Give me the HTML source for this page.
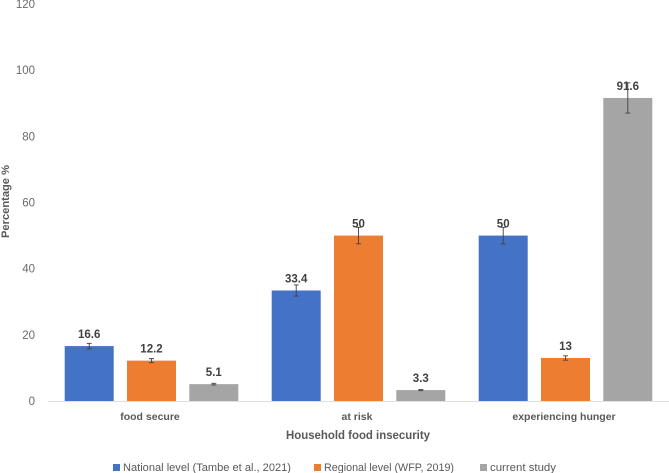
<!DOCTYPE html>
<html lang="en">
<head>
<meta charset="utf-8">
<title>Household food insecurity chart</title>
<style>
html,body{margin:0;padding:0;background:#fff;}
svg{display:block;font-family:"Liberation Sans",sans-serif;}
</style>
</head>
<body>
<svg id="chart" width="669" height="473" viewBox="0 0 669 473" xmlns="http://www.w3.org/2000/svg"></svg>
<script>
const categories = ['food secure', 'at risk', 'experiencing hunger'];
const nationalValues = [16.6, 33.4, 50];
const regionalValues = [12.2, 50, 13];
const currentValues = [5.1, 3.3, 91.6];
const nationalErrors = [0.83, 1.67, 2.5];
const regionalErrors = [0.61, 2.5, 0.65];
const currentErrors = [0.25, 0.17, 4.58];
const yTicks = [0, 20, 40, 60, 80, 100, 120];
const seriesNames = ['National level (Tambe et al., 2021)', 'Regional level (WFP, 2019)', 'current study'];
const seriesColors = ['#4472c4', '#ed7d31', '#a5a5a5'];
const seriesSlugs = ['national', 'regional', 'current'];

const svg = document.getElementById('chart');
const NS = 'http://www.w3.org/2000/svg';
const plotLeft = 48, plotRight = 669, baseY = 401, topY = 4, yMax = 120;
const barW = 49, barStep = 62.3;
const yScale = v => baseY - (v / yMax) * (baseY - topY);
const groupW = (plotRight - plotLeft) / categories.length;
const xCenter = i => plotLeft + groupW * (i + 0.5);

function make(tag, attrs, text) {
  const el = document.createElementNS(NS, tag);
  for (const k in attrs) el.setAttribute(k, attrs[k]);
  if (text !== undefined) el.textContent = text;
  svg.appendChild(el);
  return el;
}

// y axis tick labels
yTicks.forEach(t => {
  const el = make('text', {x: 35, y: yScale(t) + 4, 'text-anchor': 'end', 'font-size': 11.5, fill: '#6a6a6a'}, String(t));
  
  
});

// x axis line
const axisLine = make('line', {x1: plotLeft, x2: plotRight, y1: baseY + 0.5, y2: baseY + 0.5, stroke: '#e0e0e0', 'stroke-width': 1});



const allValues = [nationalValues, regionalValues, currentValues];
const allErrors = [nationalErrors, regionalErrors, currentErrors];

// bars
allValues.forEach((vals, s) => {
  vals.forEach((v, i) => {
    const cx = xCenter(i) + (s - 1) * barStep;
    const bar = make('rect', {x: cx - barW / 2, y: yScale(v), width: barW, height: baseY - yScale(v), fill: seriesColors[s]});
    
    
  });
});

// data labels
allValues.forEach((vals, s) => {
  vals.forEach((v, i) => {
    const cx = xCenter(i) + (s - 1) * barStep;
    const label = make('text', {x: cx, y: yScale(v) - 8, 'text-anchor': 'middle', 'font-size': 11.5, 'font-weight': 'bold', fill: '#404040'}, String(v));
    
    
  });
});

// error bars
allValues.forEach((vals, s) => {
  vals.forEach((v, i) => {
    const cx = xCenter(i) + (s - 1) * barStep;
    const e = allErrors[s][i];
    const y1 = yScale(v + e), y2 = yScale(v - e);
    const d = 'M' + cx + ' ' + y1 + 'V' + y2 + 'M' + (cx - 2.5) + ' ' + y1 + 'H' + (cx + 2.5) + 'M' + (cx - 2.5) + ' ' + y2 + 'H' + (cx + 2.5);
    const err = make('path', {d: d, stroke: '#404040', 'stroke-width': 0.9, fill: 'none'});
    
    
  });
});

// category labels
categories.forEach((c, i) => {
  const el = make('text', {x: xCenter(i) - 1.5, y: 420, 'text-anchor': 'middle', 'font-size': 10.5, 'font-weight': 'bold', fill: '#595959'}, c);
  
  
});

// axis titles
const xTitle = make('text', {x: 358, y: 439, 'text-anchor': 'middle', 'font-size': 12, 'font-weight': 'bold', fill: '#595959', textLength: 144, lengthAdjust: 'spacingAndGlyphs'}, 'Household food insecurity');



const yTitle = make('text', {transform: 'translate(9 201.5) rotate(-90)', 'text-anchor': 'middle', 'font-size': 11, 'font-weight': 'bold', fill: '#595959', textLength: 73, lengthAdjust: 'spacingAndGlyphs'}, 'Percentage %');



// legend
const legendSwatchX = [113, 314, 480];
const legendTextW = [168, 130, 66];
seriesNames.forEach((name, s) => {
  const sw = make('rect', {x: legendSwatchX[s], y: 464, width: 7, height: 7, fill: seriesColors[s]});
  
  
  const tx = make('text', {x: legendSwatchX[s] + 10, y: 471, 'font-size': 11, fill: '#595959', textLength: legendTextW[s], lengthAdjust: 'spacingAndGlyphs'}, name);
  
  
});
</script>
</body>
</html>
